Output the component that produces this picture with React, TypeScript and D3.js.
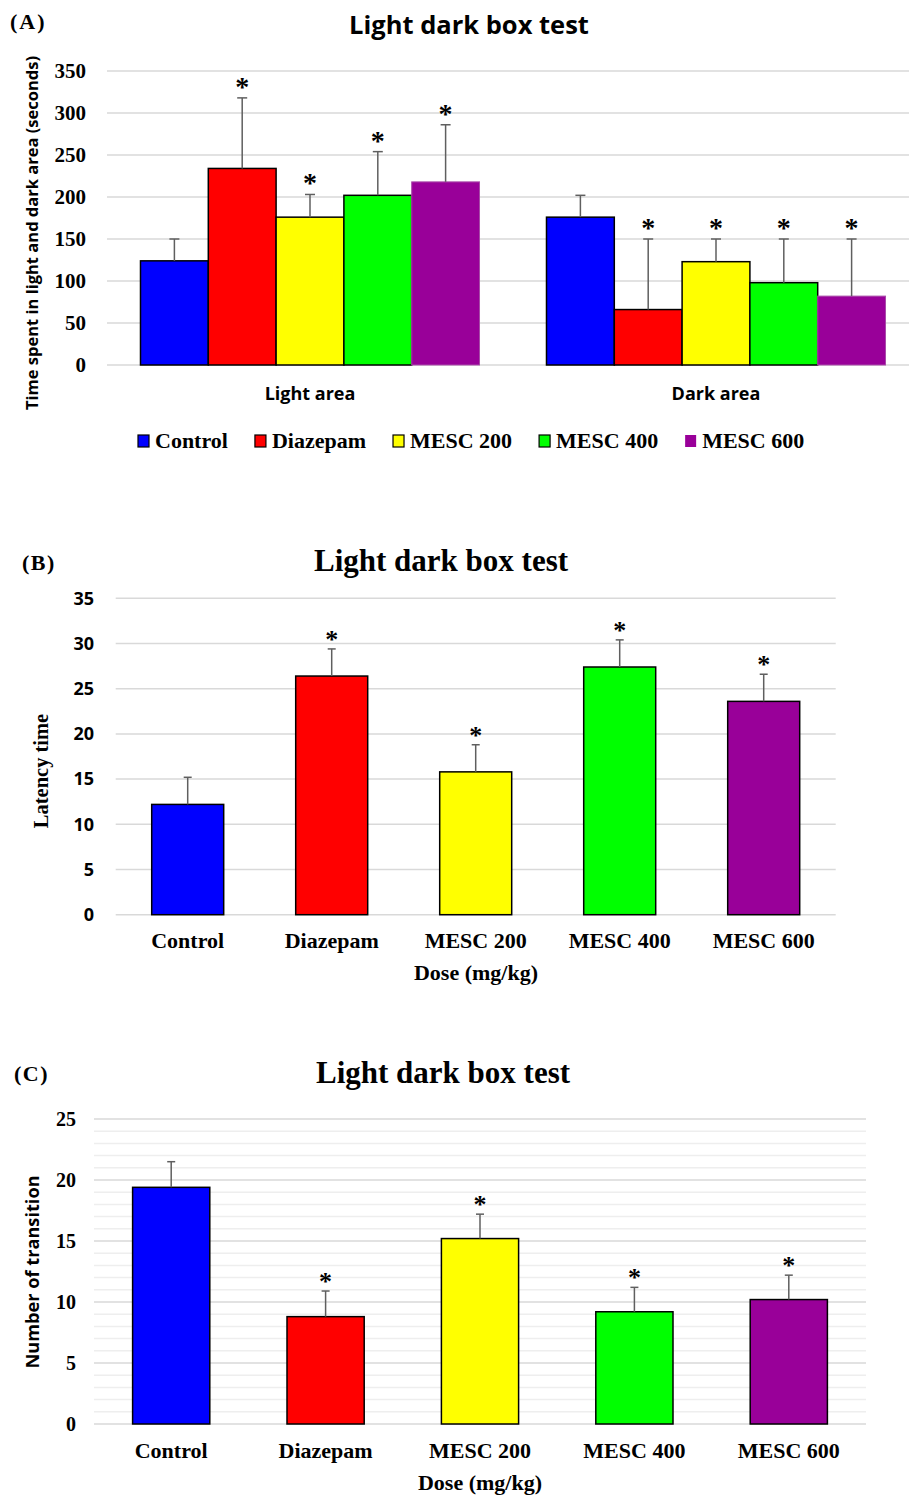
import React from "react";
import * as d3 from "d3";

const treatments = ["Control", "Diazepam", "MESC 200", "MESC 400", "MESC 600"];
const treatmentColors = ["#0000ff", "#ff0000", "#ffff00", "#00ff00", "#990099"];

// (A) time spent in each compartment
const areas = ["Light area", "Dark area"];
const lightTime = [124, 234, 176, 202, 218];
const lightTimeSE = [26, 84, 27, 52, 68];
const lightTimeSig = [false, true, true, true, true];
const darkTime = [176, 66, 123, 98, 82];
const darkTimeSE = [26, 84, 27, 52, 68];
const darkTimeSig = [false, true, true, true, true];
const timeTicks = [0, 50, 100, 150, 200, 250, 300, 350];

// (B) latency
const latency = [12.2, 26.4, 15.8, 27.4, 23.6];
const latencySE = [3, 3, 3, 3, 3];
const latencySig = [false, true, true, true, true];
const latencyTicks = [0, 5, 10, 15, 20, 25, 30, 35];

// (C) transitions
const transitions = [19.4, 8.8, 15.2, 9.2, 10.2];
const transitionsSE = [2.1, 2.1, 2.0, 2.0, 2.0];
const transitionsSig = [false, true, true, true, true];
const transitionTicks = [0, 5, 10, 15, 20, 25];

const SERIF = "'Liberation Serif', 'Times New Roman', serif";
const SANS = "'Open Sans', Lato, sans-serif";
const GRID = "#d9d9d9";
const ERR = "#5f5f5f";

let ctx: CanvasRenderingContext2D | null = null;
const measure = (text: string, font: string) => {
  if (!ctx) ctx = document.createElement("canvas").getContext("2d");
  ctx!.font = font;
  return ctx!.measureText(text).width;
};

function ErrorBar({ x, y0, y1, cap }: { x: number; y0: number; y1: number; cap: number }) {
  return (
    <g stroke={ERR} strokeWidth={1.5}>
      <line x1={x} x2={x} y1={y0} y2={y1} />
      <line x1={x - cap / 2} x2={x + cap / 2} y1={y1} y2={y1} />
    </g>
  );
}

function PanelA() {
  const x0 = d3.scaleBand().domain(areas).range([107, 919]).paddingInner(0.165).paddingOuter(0.0825);
  const x1 = d3.scaleBand().domain(treatments).range([0, x0.bandwidth()]);
  const y = d3.scaleLinear().domain([0, 350]).range([365, 71]);
  const series = [
    { area: areas[0], values: lightTime, se: lightTimeSE, sig: lightTimeSig },
    { area: areas[1], values: darkTime, se: darkTimeSE, sig: darkTimeSig },
  ];

  // legend layout from text widths
  const legendFont = `bold 22px ${SERIF}`;
  let lx = 138;
  const legend = treatments.map((t, i) => {
    const item = { t, i, x: lx };
    lx += 12 + 5 + measure(t, legendFont) + 27;
    return item;
  });

  return (
    <g>
      <text x={10} y={29} fontFamily={SERIF} fontWeight="bold" fontSize={22} letterSpacing={2}>(A)</text>
      <text x={469} y={34} textAnchor="middle" fontFamily={SANS} fontWeight="bold" fontSize={25.5}>Light dark box test</text>
      {timeTicks.map((t) => (
        <g key={t}>
          <line x1={107} x2={919} y1={y(t)} y2={y(t)} stroke={GRID} strokeWidth={1.5} />
          <text x={86} y={y(t)} dy="0.35em" textAnchor="end" fontFamily={SERIF} fontWeight="bold" fontSize={21}>{t}</text>
        </g>
      ))}
      <text transform={`translate(38,${233}) rotate(-90)`} textAnchor="middle" fontFamily={SANS} fontWeight="bold" fontSize={16.5}>
        Time spent in light and dark area (seconds)
      </text>
      {series.map((s) => (
        <g key={s.area} transform={`translate(${x0(s.area)},0)`}>
          {s.values.map((v, i) => {
            const purple = i === 4;
            return (
              <rect key={i} x={x1(treatments[i])} y={y(v)} width={x1.bandwidth()} height={y(0) - y(v)}
                fill={treatmentColors[i]} stroke={purple ? "#a84ca8" : "#000"} strokeWidth={purple ? 1 : 1.5} />
            );
          })}
          {s.values.map((v, i) => {
            const cx = x1(treatments[i])! + x1.bandwidth() / 2;
            const top = y(v + s.se[i]);
            return (
              <g key={i}>
                <ErrorBar x={cx} y0={y(v)} y1={top} cap={10} />
                {s.sig[i] && (
                  <text x={cx} y={top - 2} textAnchor="middle" fontFamily={SERIF} fontWeight="bold" fontSize={28}>*</text>
                )}
              </g>
            );
          })}
          <text x={x0.bandwidth() / 2} y={400} textAnchor="middle" fontFamily={SANS} fontWeight="bold" fontSize={18}>{s.area}</text>
        </g>
      ))}
      {legend.map((l) => (
        <g key={l.t}>
          <rect x={l.x} y={435} width={11} height={12} fill={treatmentColors[l.i]}
            stroke={l.i === 4 ? "none" : "#000"} strokeWidth={1.2} />
          <text x={l.x + 17} y={448} fontFamily={SERIF} fontWeight="bold" fontSize={22}>{l.t}</text>
        </g>
      ))}
    </g>
  );
}

type PanelProps = {
  tag: string;
  tagX: number;
  tagY: number;
  titleX: number;
  titleY: number;
  values: number[];
  se: number[];
  sig: boolean[];
  ticks: number[];
  minor: boolean;
  left: number;
  right: number;
  top: number;
  bottom: number;
  tickFont: string;
  tickX: number;
  yLabel: string;
  yLabelFont: string;
  yLabelX: number;
  yLabelY: number;
  xLabelY: number;
  doseY: number;
  doseX: number;
};

function BarPanel(p: PanelProps) {
  const x = d3.scaleBand().domain(treatments).range([p.left, p.right]).paddingInner(0.5).paddingOuter(0.25);
  const maxT = p.ticks[p.ticks.length - 1];
  const y = d3.scaleLinear().domain([0, maxT]).range([p.bottom, p.top]);
  const minorTicks = p.minor ? d3.range(0, maxT + 1).filter((t) => t % 5 !== 0) : [];
  return (
    <g>
      <text x={p.tagX} y={p.tagY} fontFamily={SERIF} fontWeight="bold" fontSize={22} letterSpacing={1.5}>{p.tag}</text>
      <text x={p.titleX} y={p.titleY} textAnchor="middle" fontFamily={SERIF} fontWeight="bold" fontSize={31}>Light dark box test</text>
      {minorTicks.map((t) => (
        <line key={"m" + t} x1={p.left} x2={p.right} y1={y(t)} y2={y(t)} stroke="#eeeeee" strokeWidth={1.5} />
      ))}
      {p.ticks.map((t) => (
        <g key={t}>
          <line x1={p.left} x2={p.right} y1={y(t)} y2={y(t)} stroke={GRID} strokeWidth={1.5} />
          <text x={p.tickX} y={y(t)} dy="0.35em" textAnchor="end" style={{ font: p.tickFont }}>{t}</text>
        </g>
      ))}
      <text transform={`translate(${p.yLabelX},${p.yLabelY}) rotate(-90)`} textAnchor="middle" style={{ font: p.yLabelFont }}>
        {p.yLabel}
      </text>
      {p.values.map((v, i) => (
        <rect key={i} x={x(treatments[i])} y={y(v)} width={x.bandwidth()} height={y(0) - y(v)}
          fill={treatmentColors[i]} stroke="#000" strokeWidth={1.5} />
      ))}
      {p.values.map((v, i) => {
        const cx = x(treatments[i])! + x.bandwidth() / 2;
        const top = y(v + p.se[i]);
        return (
          <g key={i}>
            <ErrorBar x={cx} y0={y(v)} y1={top} cap={8} />
            {p.sig[i] && (
              <text x={cx} y={top - 1} textAnchor="middle" fontFamily={SERIF} fontWeight="bold" fontSize={26}>*</text>
            )}
            <text x={cx} y={p.xLabelY} textAnchor="middle" fontFamily={SERIF} fontWeight="bold" fontSize={22}>{treatments[i]}</text>
          </g>
        );
      })}
      <text x={p.doseX} y={p.doseY} textAnchor="middle" fontFamily={SERIF} fontWeight="bold" fontSize={22}>Dose (mg/kg)</text>
    </g>
  );
}

export default function App() {
  return (
    <svg width={909} height={1498} style={{ position: "absolute", left: 0, top: 0, background: "#fff" }}>
      <PanelA />
      <BarPanel
        tag="(B)" tagX={22} tagY={570} titleX={441} titleY={571}
        values={latency} se={latencySE} sig={latencySig} ticks={latencyTicks} minor={false}
        left={115.7} right={835.7} top={598.3} bottom={914.7}
        tickFont={`bold 18px ${SANS}`} tickX={94}
        yLabel="Latency time" yLabelFont={`bold 20.5px ${SERIF}`} yLabelX={48} yLabelY={771}
        xLabelY={948} doseX={476} doseY={980}
      />
      <BarPanel
        tag="(C)" tagX={14} tagY={1081} titleX={443} titleY={1083}
        values={transitions} se={transitionsSE} sig={transitionsSig} ticks={transitionTicks} minor={true}
        left={94} right={866} top={1119} bottom={1424}
        tickFont={`bold 20px ${SERIF}`} tickX={76}
        yLabel="Number of transition" yLabelFont={`bold 18.2px ${SANS}`} yLabelX={39} yLabelY={1272}
        xLabelY={1458} doseX={480} doseY={1490}
      />
    </svg>
  );
}
